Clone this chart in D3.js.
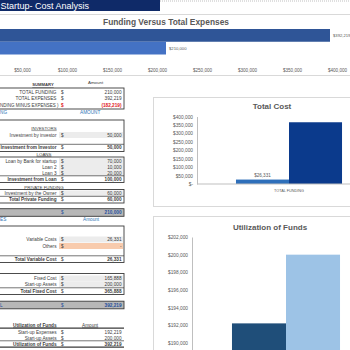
<!DOCTYPE html>
<html>
<head>
<meta charset="utf-8">
<script src="https://cdn.jsdelivr.net/npm/d3@7"></script>
<style>
  body { margin: 0; background: #fff; }
  svg text { font-family: "Liberation Sans", Arial, sans-serif; }
</style>
</head>
<body>
<div id="sheet"></div>
<script>
// ---- data ----
const fundingCategories = ['TOTAL EXPENSES', 'TOTAL FUNDING'];
const fundingValues = [392219, 210000];
const fundingTicks = [50000, 100000, 150000, 200000, 250000, 300000, 350000, 400000];

const costCategories = ['TOTAL FUNDING'];
const costSeries = ['Total Variable Cost', 'Total Fixed Cost'];
const costValues = [26331, 365888];
const costTicks = [0, 50000, 100000, 150000, 200000, 250000, 300000, 350000, 400000];

const useCategories = ['Utilization of Funds'];
const useSeries = ['Start-up Expenses', 'Start-up Assets'];
const useValues = [192219, 200000];
const useTicks = [190000, 192000, 194000, 196000, 198000, 200000, 202000];

// labels as far as the sheet shows them (its left columns are cut off)
const summaryLabels = ['TOTAL FUNDING', 'TOTAL EXPENSES', 'NDING MINUS EXPENSES )'];
const summaryValues = [210000, 392219, -182219];
const investorLabels = ['Investment by investor'];
const investorValues = [50000];
const loanLabels = ['Loan by Bank for startup', 'Loan 2', 'Loan 3'];
const loanValues = [70000, 10000, 20000];
const ownerLabels = ['Investment by the Owner'];
const ownerValues = [60000];
const variableLabels = ['Variable Costs', 'Others'];
const variableValues = [26331, 0];
const fixedLabels = ['Fixed Cost', 'Start-up Assets'];
const fixedValues = [165888, 200000];

const W = 350, H = 350;
const grey = '#595959';
const money = d3.format(',');
const acct = v => v === 0 ? '-' : v < 0 ? `(${money(-v)})` : money(v);
const dollars = v => v === 0 ? '$-' : '$' + money(v);

const svg = d3.select('#sheet').append('svg')
    .attr('width', W)
    .attr('height', H);

// title strip
svg.append('line').attr('x1', 0).attr('x2', W).attr('y1', 1).attr('y2', 1)
    .attr('stroke', '#bfbfbf').attr('stroke-dasharray', '1,1');
svg.append('rect').attr('x', 0).attr('y', 0).attr('width', 160).attr('height', 11).attr('fill', '#0f2a68');
svg.append('text').attr('x', 0.5).attr('y', 8.7).attr('fill', '#fff').attr('font-size', 9)
    .text('Startup- Cost Analysis');

// ---- Funding Versus Total Expenses ----
svg.append('line').attr('x1', 0).attr('x2', W).attr('y1', 14.5).attr('y2', 14.5).attr('stroke', '#d9d9d9');
svg.append('line').attr('x1', 0).attr('x2', W).attr('y1', 75.5).attr('y2', 75.5).attr('stroke', '#d9d9d9');
svg.append('text').attr('x', 166).attr('y', 25).attr('text-anchor', 'middle')
    .attr('font-size', 8.4).attr('font-weight', 'bold').attr('fill', grey)
    .text('Funding Versus Total Expenses');

const fx = d3.scaleLinear().domain([0, 400000]).range([-23, 337]);
const fy = d3.scaleBand().domain(fundingCategories).range([29, 54.5]);
const fundColors = ['#2f5597', '#4472c4'];

svg.append('g').selectAll('rect')
    .data(fundingCategories)
    .enter()
    .append('rect')
    .attr('x', 0)
    .attr('y', d => fy(d))
    .attr('width', (d, i) => fx(fundingValues[i]))
    .attr('height', fy.bandwidth())
    .attr('fill', (d, i) => fundColors[i]);

svg.append('g').selectAll('text')
    .data(fundingCategories)
    .enter()
    .append('text')
    .attr('x', (d, i) => fx(fundingValues[i]) + 3)
    .attr('y', d => fy(d) + fy.bandwidth() / 2 + 1.5)
    .attr('font-size', 4.2)
    .attr('fill', grey)
    .text((d, i) => dollars(fundingValues[i]));

const fAxis = svg.append('g')
    .attr('transform', 'translate(0,66)')
    .call(d3.axisBottom(fx).tickValues(fundingTicks).tickSize(0).tickFormat(dollars));
fAxis.select('.domain').remove();
fAxis.selectAll('text').attr('font-size', 4.6).attr('fill', grey);

// ---- table ----
const rows = [];
const add = (type, label, value) => rows.push({ type, label, value });
add('summary', 'SUMMARY', 'Amount');
summaryLabels.forEach((l, i) => add(i === 2 ? 'red' : 'plain', l, summaryValues[i]));
add('blue', 'NG', 'AMOUNT');
add('head', 'INVESTORS');
investorLabels.forEach((l, i) => add('input', l, investorValues[i]));
add('total', 'Investment from Investor', d3.sum(investorValues));
add('head', 'LOANS');
loanLabels.forEach((l, i) => add('input', l, loanValues[i]));
add('total', 'Investment from Loan', d3.sum(loanValues));
add('head', 'PRIVATE FUNDING');
ownerLabels.forEach((l, i) => add('input', l, ownerValues[i]));
add('total', 'Total Private Funding', d3.sum(ownerValues));
add('band', '', d3.sum(investorValues) + d3.sum(loanValues) + d3.sum(ownerValues));
add('blue', 'ES', 'Amount');
variableLabels.forEach((l, i) => add(i === 1 ? 'other' : 'input', l, variableValues[i]));
add('total', 'Total Variable Cost', d3.sum(variableValues));
fixedLabels.forEach((l, i) => add('input', l, fixedValues[i]));
add('total', 'Total Fixed Cost', d3.sum(fixedValues));
add('band', 'L', d3.sum(variableValues) + d3.sum(fixedValues));
add('useHead', 'Utilization of Funds', 'Amount');
useSeries.forEach((l, i) => add('plain', l, useValues[i]));
add('useTotal', 'Utilization of Funds', d3.sum(useValues));

// row centre lines of the sheet (layout only)
const rowY = [84.5, 92, 98.5, 105, 112, 128, 135, 147.5, 154, 161, 167, 173, 179, 187, 193.5, 199.5, 212.5,
              219.5, 239.5, 246, 259, 278.5, 284.5, 291, 305, 325, 332, 338, 344];

const tbl = svg.append('g');
const labX = 56.5, curX = 61, valX = 121.5, fs = 4.7;

// boxes
const boxes = [[88, 109], [120, 151.5], [157, 182.5], [189.5, 203], [226, 262.5], [273.5, 294.5]];
tbl.selectAll('.box').data(boxes).enter().append('rect')
    .attr('x', -1).attr('y', d => d[0]).attr('width', 125).attr('height', d => d[1] - d[0])
    .attr('fill', 'none').attr('stroke', '#3a3a3a').attr('stroke-width', 0.9);

rows.forEach((r, i) => {
  const y = rowY[i];
  const g = tbl.append('g');
  const t = (x, txt, anchor) => g.append('text').attr('x', x).attr('y', y + 1.6)
      .attr('font-size', fs).attr('text-anchor', anchor).attr('fill', '#3b3b3b').text(txt);
  if (r.type === 'summary') {
    t(43, r.label, 'middle').attr('font-weight', 'bold').attr('font-size', 4.2)
        .attr('text-decoration', 'underline');
    t(88, r.value, 'start').attr('y', y - 1).attr('font-size', 4.4);
    return;
  }
  if (r.type === 'head') {
    t(44, r.label, 'middle').attr('font-size', 4.4).attr('text-decoration', 'underline');
    return;
  }
  if (r.type === 'blue') {
    t(0, r.label, 'start').attr('fill', '#2e75b6');
    t(r.value === 'AMOUNT' ? 80 : 83, r.value, 'start').attr('fill', '#2e75b6');
    return;
  }
  if (r.type === 'band') {
    g.append('rect').attr('x', -1).attr('y', y - 3.8).attr('width', 125).attr('height', 7.6)
        .attr('fill', '#b7b7b7').attr('stroke', '#3a3a3a').attr('stroke-width', 0.9);
    t(0, r.label, 'start').attr('fill', '#1f4e9c');
    t(curX, '$', 'start').attr('fill', '#1f4e9c');
    t(valX, acct(r.value), 'end').attr('fill', '#1f4e9c').attr('font-weight', 'bold');
    return;
  }
  if (r.type === 'useHead') {
    g.append('line').attr('x1', -1).attr('x2', 124).attr('y1', y + 3.2).attr('y2', y + 3.2)
        .attr('stroke', '#3a3a3a').attr('stroke-width', 1.2);
    t(labX, r.label, 'end').attr('font-weight', 'bold').attr('text-decoration', 'underline');
    t(82, r.value, 'start').attr('text-decoration', 'underline');
    return;
  }
  if (r.type === 'input' || r.type === 'other') {
    g.append('rect').attr('x', 59).attr('y', y - 3).attr('width', 64).attr('height', 6)
        .attr('fill', r.type === 'other' ? '#f8cbad' : '#ececec');
  }
  if (r.type === 'total' || r.type === 'useTotal') {
    g.append('line').attr('x1', -1).attr('x2', 124).attr('y1', y - 3.2).attr('y2', y - 3.2)
        .attr('stroke', '#3a3a3a').attr('stroke-width', 0.7);
    if (r.type === 'useTotal') {
      g.append('line').attr('x1', -1).attr('x2', 124).attr('y1', y + 3.2).attr('y2', y + 3.2)
          .attr('stroke', '#3a3a3a').attr('stroke-width', 1.2);
    }
  }
  const bold = r.type === 'total' || r.type === 'useTotal';
  const red = r.type === 'red';
  const lab = t(labX, r.label, 'end').attr('font-weight', bold ? 'bold' : null);
  if (red) lab.attr('x', 0).attr('text-anchor', 'start').attr('font-size', 4.5);
  t(curX, '$', 'start').attr('fill', red ? '#e0181b' : '#3b3b3b').attr('font-weight', red ? 'bold' : null);
  t(valX, acct(r.value), 'end').attr('font-weight', bold || red ? 'bold' : null)
      .attr('fill', red ? '#e0181b' : '#3b3b3b');
});

// ---- Total Cost ----
svg.append('rect').attr('x', 153.5).attr('y', 97.5).attr('width', 200).attr('height', 109)
    .attr('fill', 'none').attr('stroke', '#d9d9d9');
svg.append('text').attr('x', 272).attr('y', 109).attr('text-anchor', 'middle')
    .attr('font-size', 8).attr('font-weight', 'bold').attr('fill', grey).text('Total Cost');

const cy = d3.scaleLinear().domain([0, 400000]).range([184, 116.5]);
const cx = d3.scaleBand().domain(costCategories).range([196, 382]).paddingOuter(0.377);
const cs = d3.scaleBand().domain(costSeries).range([0, cx.bandwidth()]);
const costColors = ['#2e6fba', '#0b3a8c'];

const cAxis = svg.append('g')
    .attr('transform', 'translate(197,0)')
    .call(d3.axisLeft(cy).tickValues(costTicks).tickSize(0).tickPadding(4).tickFormat(dollars));
cAxis.select('.domain').attr('stroke', '#bfbfbf');
cAxis.selectAll('text').attr('font-size', 4.8).attr('fill', grey);

svg.append('g').selectAll('rect')
    .data(costSeries)
    .enter()
    .append('rect')
    .attr('x', d => cx(costCategories[0]) + cs(d))
    .attr('y', (d, i) => cy(costValues[i]))
    .attr('width', cs.bandwidth())
    .attr('height', (d, i) => cy(0) - cy(costValues[i]))
    .attr('fill', (d, i) => costColors[i]);

svg.append('line').attr('x1', 197).attr('x2', W).attr('y1', cy(0)).attr('y2', cy(0)).attr('stroke', '#bfbfbf');
svg.append('text')
    .attr('x', cx(costCategories[0]) + cs(costSeries[0]) + cs.bandwidth() / 2)
    .attr('y', cy(costValues[0]) - 2.5)
    .attr('text-anchor', 'middle').attr('font-size', 4.6).attr('fill', grey)
    .text(dollars(costValues[0]));
svg.append('text')
    .attr('x', cx(costCategories[0]) + cx.bandwidth() / 2)
    .attr('y', 191.5)
    .attr('text-anchor', 'middle').attr('font-size', 3.8).attr('fill', grey)
    .text(costCategories[0]);

// ---- Utilization of Funds ----
svg.append('rect').attr('x', 153.5).attr('y', 216.5).attr('width', 200).attr('height', 140)
    .attr('fill', 'none').attr('stroke', '#d9d9d9');
svg.append('text').attr('x', 270).attr('y', 230).attr('text-anchor', 'middle')
    .attr('font-size', 8).attr('font-weight', 'bold').attr('fill', grey).text('Utilization of Funds');

// axis starts below the visible edge of the sheet
const uy = d3.scaleLinear().domain([186000, 202000]).range([378.3, 237]);
const ux = d3.scaleBand().domain(useCategories).range([192, 380]).paddingOuter(0.37);
const us = d3.scaleBand().domain(useSeries).range([0, ux.bandwidth()]);
const useColors = ['#1f4e79', '#9dc3e6'];

const uAxis = svg.append('g')
    .attr('transform', 'translate(192,0)')
    .call(d3.axisLeft(uy).tickValues(useTicks).tickSize(0).tickPadding(4).tickFormat(dollars));
uAxis.select('.domain').attr('stroke', '#bfbfbf');
uAxis.selectAll('text').attr('font-size', 4.8).attr('fill', grey);

svg.append('g').selectAll('rect')
    .data(useSeries)
    .enter()
    .append('rect')
    .attr('x', d => ux(useCategories[0]) + us(d))
    .attr('y', (d, i) => uy(useValues[i]))
    .attr('width', us.bandwidth())
    .attr('height', (d, i) => uy(186000) - uy(useValues[i]))
    .attr('fill', (d, i) => useColors[i]);
</script>
</body>
</html>
